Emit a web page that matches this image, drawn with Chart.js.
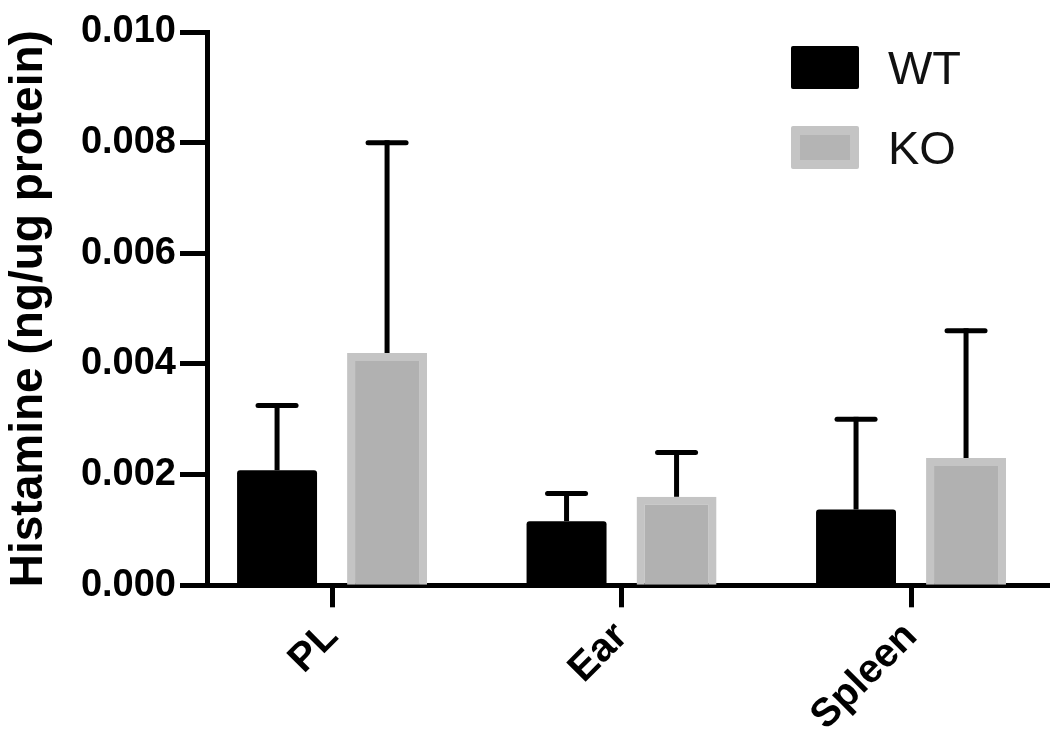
<!DOCTYPE html>
<html>
<head>
<meta charset="utf-8">
<script src="https://cdn.jsdelivr.net/npm/chart.js@4.4.0/dist/chart.umd.min.js"></script>
<style>
html, body { margin: 0; padding: 0; background: #fff; overflow: hidden; }
#wrap { position: relative; width: 1050px; height: 740px; }
#legend { position: absolute; left: 791px; top: 46px; font-family: "Liberation Sans", Arial, sans-serif; font-size: 47px; color: #111; }
.item { display: flex; align-items: center; height: 43px; margin-bottom: 37px; }
.sw { width: 68px; height: 43px; box-sizing: border-box; margin-right: 29px; border-radius: 2px; }
</style>
</head>
<body>
<div id="wrap">
  <canvas id="c" width="1050" height="740"></canvas>
  <div id="legend"></div>
</div>
<script>
var categories = ["PL", "Ear", "Spleen"];
var seriesNames = ["WT", "KO"];
var wtMean = [0.00208, 0.00116, 0.00137];
var wtSD = [0.00117, 0.00050, 0.00163];
var koMean = [0.00420, 0.00160, 0.00230];
var koSD = [0.00380, 0.00080, 0.00230];
var yTicks = [0, 0.002, 0.004, 0.006, 0.008, 0.010];

var font = "'Liberation Sans', Arial, sans-serif";

function points(values) {
  return values.map(function (v, i) { return { x: i + 1, y: v }; });
}

// upward-only error bars, like the original figure
var errorBars = {
  id: 'errorBars',
  afterDatasetsDraw: function (chart) {
    var ctx = chart.ctx;
    var y = chart.scales.y;
    chart.data.datasets.forEach(function (ds, di) {
      var meta = chart.getDatasetMeta(di);
      meta.data.forEach(function (bar, i) {
        var top = y.getPixelForValue(ds.data[i].y + ds.errors[i]);
        ctx.save();
        ctx.strokeStyle = '#000';
        ctx.lineWidth = 5;
        ctx.beginPath();
        ctx.moveTo(bar.x, bar.y);
        ctx.lineTo(bar.x, top - 2.5);
        ctx.stroke();
        ctx.lineCap = 'round';
        ctx.beginPath();
        ctx.moveTo(bar.x - 19, top);
        ctx.lineTo(bar.x + 19, top);
        ctx.stroke();
        ctx.restore();
      });
    });
  }
};

var chart = new Chart(document.getElementById('c'), {
  type: 'bar',
  data: {
    datasets: [{
      label: seriesNames[0],
      data: points(wtMean),
      errors: wtSD,
      backgroundColor: '#000',
      borderWidth: 0,
      borderRadius: { topLeft: 3, topRight: 3 }
    }, {
      label: seriesNames[1],
      data: points(koMean),
      errors: koSD,
      backgroundColor: '#b1b1b1',
      borderColor: '#c4c4c4',
      borderWidth: 8,
      borderSkipped: 'bottom'
    }]
  },
  options: {
    responsive: false,
    animation: false,
    categoryPercentage: 0.76,
    barPercentage: 0.727,
    layout: { padding: { top: 32, right: 0, bottom: -6, left: 0 } },
    plugins: {
      legend: { display: false },
      tooltip: { enabled: false }
    },
    scales: {
      x: {
        type: 'linear',
        offset: false,
        min: 0.568,
        max: 3.48,
        bounds: 'data',
        afterBuildTicks: function (s) {
          s.ticks = categories.map(function (c, i) { return { value: i + 1 }; });
        },
        ticks: {
          callback: function (v) { return categories[v - 1]; },
          autoSkip: false,
          minRotation: 45,
          maxRotation: 45,
          padding: 6,
          color: '#000',
          font: { family: font, size: 40, weight: 'bold' }
        },
        grid: { offset: false, drawOnChartArea: false, tickLength: 22, tickWidth: 5, color: '#000' },
        border: { width: 5, color: '#000' }
      },
      y: {
        min: 0,
        max: 0.010,
        afterBuildTicks: function (s) {
          s.ticks = yTicks.map(function (v) { return { value: v }; });
        },
        afterFit: function (s) { s.width = 207; },
        ticks: {
          callback: function (v) { return v.toFixed(3); },
          padding: 4,
          color: '#000',
          font: { family: font, size: 38, weight: 'bold' }
        },
        grid: { drawOnChartArea: false, tickLength: 27, tickWidth: 5, color: '#000' },
        border: { width: 5, color: '#000' },
        title: {
          display: true,
          text: 'Histamine (ng/ug protein)',
          color: '#000',
          padding: { top: 2, bottom: 0 },
          font: { family: font, size: 46, weight: 'bold' }
        }
      }
    }
  },
  plugins: [errorBars]
});

// legend stacked in the top-right corner of the plot
var legendStyles = [
  'background:#000;',
  'background:#b4b4b4; border:9px solid #c4c4c4;'
];
var legend = document.getElementById('legend');
seriesNames.forEach(function (name, i) {
  var item = document.createElement('div');
  item.className = 'item';
  item.innerHTML = '<span class="sw" style="' + legendStyles[i] + '"></span><span>' + name + '</span>';
  legend.appendChild(item);
});
</script>
</body>
</html>
